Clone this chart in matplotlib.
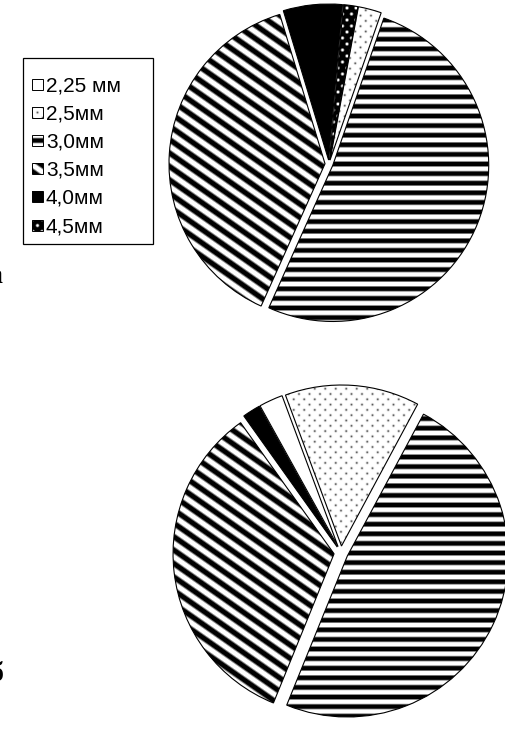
import numpy as np
import matplotlib.pyplot as plt
from matplotlib.patches import Rectangle

# доли фракций, %
labels = ['2,25 мм', '2,5мм', '3,0мм', '3,5мм', '4,0мм', '4,5мм']
shares_a = [0, 2.4, 51.4, 38.6, 6.1, 1.5]
shares_b = [2.4, 13.5, 48.3, 34.0, 1.8, 0]
panel_labels = ['а', 'б']

fills = ['white', 'dots', 'hlines', 'diag', 'black', 'mottle']

W, H = 506, 729
DPI = 100
HALF = 175  # half size of each pie axes, px


def texture(kind, X, Y):
    if kind == 'hlines':
        return np.clip(0.5 + 0.9 * np.cos(2 * np.pi * Y / 9.6 + np.pi), 0, 1)
    if kind == 'diag':
        a = np.deg2rad(35)
        ph = X * np.sin(a) + Y * np.cos(a)
        return np.clip(0.5 + 0.9 * np.cos(2 * np.pi * ph / 11.0), 0, 1)
    if kind == 'dots':
        row = np.round(Y / 5.3)
        xo = X - (row % 2) * 5.25
        dx = xo - np.round(xo / 10.5) * 10.5
        dy = Y - row * 5.3
        return 1 - 0.65 * np.exp(-(dx**2 + dy**2) / 1.2)
    if kind == 'mottle':
        row = np.round(Y / 6.0)
        xo = X - (row % 2) * 4.5
        dx = xo - np.round(xo / 9.0) * 9.0
        dy = Y - row * 6.0
        return np.clip(1.4 * np.exp(-(dx**2 + dy**2) / 3.0) - 0.2, 0, 1)
    return np.ones_like(X)


def pie_texture(kind):
    c = np.arange(2 * HALF) + 0.5 - HALF
    X, Y = np.meshgrid(c, c)
    return texture(kind, X, Y)


def draw_pie(ax, shares, start, radius, explode):
    idx = [i for i, v in enumerate(shares) if v > 0]
    vals = [shares[i] for i in idx]
    base = ['black' if fills[i] == 'black' else 'white' for i in idx]
    wedges, _ = ax.pie(vals, startangle=start, counterclock=False, radius=radius,
                       explode=[explode] * len(vals), colors=base,
                       wedgeprops=dict(linewidth=0, zorder=1))
    for w, i in zip(wedges, idx):
        if fills[i] in ('white', 'black'):
            continue
        im = ax.imshow(pie_texture(fills[i]), cmap='gray', vmin=0, vmax=1,
                       extent=(-1, 1, -1, 1), origin='lower',
                       interpolation='bilinear', zorder=2)
        im.set_clip_path(w)
    ax.pie(vals, startangle=start, counterclock=False, radius=radius,
           explode=[explode] * len(vals),
           wedgeprops=dict(fill=False, edgecolor='black', linewidth=0.8, zorder=3))
    ax.set_xlim(-1, 1)
    ax.set_ylim(-1, 1)
    ax.axis('off')


def pie_axes(fig, cx, cy):
    return fig.add_axes([(cx - HALF) / W, 1 - (cy + HALF) / H, 2 * HALF / W, 2 * HALF / H])


fig = plt.figure(figsize=(W / DPI, H / DPI), dpi=DPI)

ax_a = pie_axes(fig, 329, 164)
draw_pie(ax_a, shares_a, 79.5, 156 / HALF, 4 / HALF)

ax_b = pie_axes(fig, 341, 553)
draw_pie(ax_b, shares_b, 119, 161 / HALF, 7 / HALF)

# легенда и подписи в пиксельных координатах
lax = fig.add_axes([0, 0, 1, 1], zorder=-1)
lax.set_xlim(0, W)
lax.set_ylim(H, 0)
lax.axis('off')

lax.add_patch(Rectangle((23, 58), 130, 186, fill=False, edgecolor='black', linewidth=0.9))
for i, lab in enumerate(labels):
    yc = 84 + i * 28.2
    x0, s = 32, 11
    kind = fills[i]
    if kind in ('white', 'black'):
        lax.add_patch(Rectangle((x0, yc - s / 2), s, s, facecolor=kind, edgecolor='none'))
    else:
        c = np.arange(s) + 0.5 - s / 2
        X, Y = np.meshgrid(c, c)
        lax.imshow(texture(kind, X, Y), cmap='gray', vmin=0, vmax=1,
                   extent=(x0, x0 + s, yc + s / 2, yc - s / 2), origin='lower',
                   interpolation='bilinear')
    lax.add_patch(Rectangle((x0, yc - s / 2), s, s, fill=False, edgecolor='black', linewidth=0.7))
    lax.text(46, yc + 7, lab, ha='left', va='baseline', fontsize=15,
             family='Liberation Sans')

lax.set_xlim(0, W)
lax.set_ylim(H, 0)

lax.text(-5, 283, panel_labels[0], ha='center', va='baseline', fontsize=20,
         fontweight='bold', family='Liberation Serif')
lax.text(-3, 681, panel_labels[1], ha='center', va='baseline', fontsize=20,
         fontweight='bold', family='Liberation Serif')

fig.savefig('out.png', dpi=DPI)
